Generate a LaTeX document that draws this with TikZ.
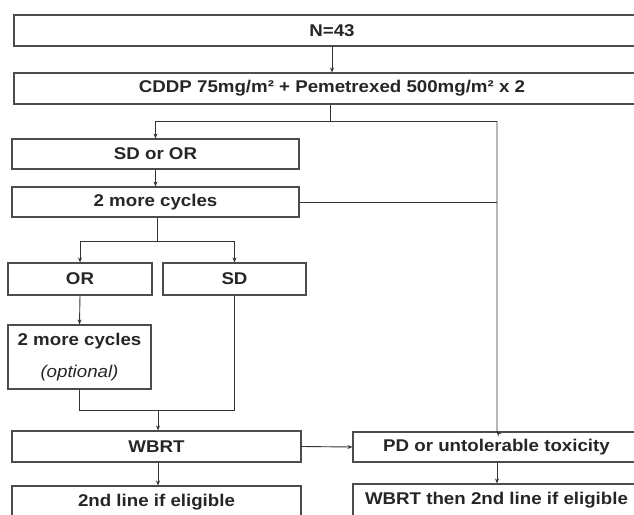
\documentclass[tikz,border=0pt]{standalone}
\usepackage{fontspec}
\setmainfont{Liberation Sans}[FakeStretch=1.1]
\usetikzlibrary{arrows.meta}
\begin{document}
\begin{tikzpicture}[x=1pt,y=-1pt,
  box/.style={draw=black!70,line width=1.1pt,rectangle,inner sep=0pt,font=\fontsize{17}{20}\selectfont\bfseries,text=black!85},
  conn/.style={draw=black!80,line width=0.9pt},
  arr/.style={conn,-{Stealth[length=5pt,width=4pt]}}]
\useasboundingbox (0,0) rectangle (634,514);
\begin{scope}
\clip (0,0) rectangle (634,514);
\node[box,minimum width=636pt,minimum height=31pt] (n43) at (332,30.5) {N=43};
\node[box,minimum width=636pt,minimum height=31pt] (cddp) at (332,88.5) {CDDP 75mg/m² + Pemetrexed 500mg/m² x 2};
\node[box,minimum width=287pt,minimum height=30pt] (sdor) at (155.5,154) {SD or OR};
\node[box,minimum width=287pt,minimum height=30pt] (more1) at (155.5,202) {2 more cycles};
\node[box,minimum width=144pt,minimum height=32pt] (or) at (80,279) {OR};
\node[box,minimum width=143pt,minimum height=32pt] (sd) at (234.5,279) {SD};
\node[box,minimum width=143pt,minimum height=64pt,align=center] (opt) at (79.5,357) {2 more cycles\\[12pt]\mdseries\itshape (optional)};
\node[box,minimum width=289pt,minimum height=31pt] (wbrt) at (156.5,446.5) {WBRT};
\node[box,minimum width=287pt,minimum height=30pt] (pd) at (496.5,447) {PD or untolerable toxicity};
\node[box,minimum width=289pt,minimum height=32pt] (line2) at (156.5,502) {2nd line if eligible};
\node[box,minimum width=287pt,minimum height=32pt] (wbrt2) at (496.5,500) {WBRT then 2nd line if eligible};

\coordinate (j1) at (330,121.5);
\coordinate (j2) at (157,241);
\coordinate (j3) at (158,410);

\draw[arr] (n43.south) -- (cddp.north);
\draw[conn] (cddp.south -| j1) -- (j1);
\draw[arr] (j1) -| (sdor.north);
\draw[arr] (j1) -| (497,432) -- (pd.north);
\draw[arr] (sdor.south) -- (more1.north);
\draw[conn] (more1.east) -- (497,202);
\draw[conn] (more1.south -| j2) -- (j2);
\draw[arr] (j2) -| (or.north);
\draw[arr] (j2) -| (sd.north);
\draw[arr] (or.south) -- (opt.north);
\draw[conn] (opt.south) |- (j3);
\draw[conn] (sd.south) |- (j3);
\draw[arr] (j3) -- (wbrt.north -| j3);
\draw[arr] (wbrt.east) -- (pd.west);
\draw[arr] (wbrt.south -| j3) -- (line2.north -| j3);
\draw[arr] (pd.south -| 497,0) -- (wbrt2.north -| 497,0);
\end{scope}
\end{tikzpicture}
\end{document}
